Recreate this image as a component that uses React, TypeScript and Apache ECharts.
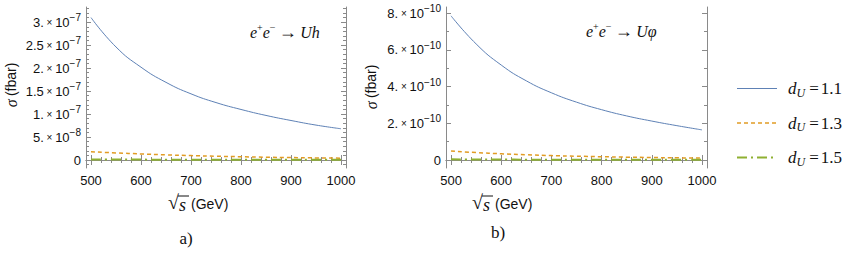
import React, { useEffect, useRef } from "react";
import * as echarts from "echarts";

// ---- data ----
const sqrtS = [500, 550, 600, 650, 700, 750, 800, 850, 900, 950, 1000];

// panel a) e+e- -> U h   (fbar)
const uhD11 = [3.1e-7, 2.46e-7, 2.02e-7, 1.69e-7, 1.44e-7, 1.25e-7, 1.1e-7, 9.7e-8, 8.6e-8, 7.6e-8, 6.8e-8];
const uhD13 = [1.8e-8, 1.55e-8, 1.32e-8, 1.12e-8, 9.6e-9, 8.3e-9, 7.1e-9, 6.1e-9, 5.3e-9, 4.6e-9, 4.0e-9];
const uhD15 = [1.2e-9, 1.0e-9, 8.5e-10, 7.3e-10, 6.3e-10, 5.5e-10, 4.8e-10, 4.2e-10, 3.7e-10, 3.3e-10, 3.0e-10];

// panel b) e+e- -> U phi   (fbar)
const uphiD11 = [7.85e-10, 6.32e-10, 5.17e-10, 4.31e-10, 3.66e-10, 3.15e-10, 2.74e-10, 2.4e-10, 2.12e-10, 1.87e-10, 1.64e-10];
const uphiD13 = [4.9e-11, 4.05e-11, 3.4e-11, 2.85e-11, 2.4e-11, 2.08e-11, 1.8e-11, 1.56e-11, 1.35e-11, 1.18e-11, 1.02e-11];
const uphiD15 = [3.5e-12, 2.9e-12, 2.4e-12, 2.0e-12, 1.7e-12, 1.45e-12, 1.25e-12, 1.1e-12, 0.95e-12, 0.85e-12, 0.75e-12];

// ticks
const xTicks = [500, 600, 700, 800, 900, 1000];
const xMinorTicks = [520, 540, 560, 580, 620, 640, 660, 680, 720, 740, 760, 780, 820, 840, 860, 880, 920, 940, 960, 980];

const uhYTicks = [0, 5e-8, 1e-7, 1.5e-7, 2e-7, 2.5e-7, 3e-7];
const uhYMantissa = ["0", "5.", "1.", "1.5", "2.", "2.5", "3."];
const uhYExponent = ["", "−8", "−7", "−7", "−7", "−7", "−7"];
const uhYMinor = [-1e-8, 1e-8, 2e-8, 3e-8, 4e-8, 6e-8, 7e-8, 8e-8, 9e-8, 1.1e-7, 1.2e-7, 1.3e-7, 1.4e-7, 1.6e-7, 1.7e-7, 1.8e-7, 1.9e-7, 2.1e-7, 2.2e-7, 2.3e-7, 2.4e-7, 2.6e-7, 2.7e-7, 2.8e-7, 2.9e-7, 3.1e-7, 3.2e-7, 3.3e-7];

const uphiYTicks = [0, 2e-10, 4e-10, 6e-10, 8e-10];
const uphiYMantissa = ["0", "2.", "4.", "6.", "8."];
const uphiYExponent = ["", "−10", "−10", "−10", "−10"];
const uphiYMinor = [1e-10, 3e-10, 5e-10, 7e-10];

const legendValues = ["1.1", "1.3", "1.5"];
const seriesNames = ["dU=1.1", "dU=1.3", "dU=1.5"];

const FRAME = "#8a8a8a";
const SANS = "Liberation Sans";
const SERIF = "Liberation Serif";
const BLUE = "#5e81b5";
const ORANGE = "#e19c24";
const GREEN = "#8fb032";
const WIDTHS = [1, 1.5, 2];

function labelFormatter(ticks: number[], mant: string[], exp: string[]) {
  return (v: number) => {
    let best = 0;
    let bd = Infinity;
    ticks.forEach((t, i) => {
      const d = Math.abs(t - v);
      if (d < bd) { bd = d; best = i; }
    });
    if (exp[best] === "") return `{m|${mant[best]}}`;
    return `{m|${mant[best]}}{x| × }{m|10}{e|${exp[best]}}`;
  };
}

const yRich = {
  m: { fontFamily: SANS, fontSize: 13, color: "#111" },
  x: { fontFamily: SANS, fontSize: 10, color: "#111" },
  e: { fontFamily: SANS, fontSize: 10, color: "#111", padding: [0, 0, 9, 0] },
};

function buildAxes(gi: number, yMin: number, yMax: number, yTicks: number[], yMinor: number[], fmt: (v: number) => string) {
  const base = { gridIndex: gi, type: "value", splitLine: { show: false } };
  const xBase = { ...base, min: 490, max: 1010 };
  const yBase = { ...base, min: yMin, max: yMax };
  const line = { show: true, lineStyle: { color: FRAME, width: 1 } };
  const noLine = { show: false };
  const tick = (vals: number[], len: number) => ({ show: true, inside: true, length: len, customValues: vals, lineStyle: { color: FRAME, width: 1 } });
  const xs = [
    { ...xBase, position: "bottom", axisLine: line, axisTick: tick(xTicks, 5),
      axisLabel: { show: true, customValues: xTicks, margin: 6, fontFamily: SANS, fontSize: 13, color: "#111", formatter: (v: number) => String(Math.round(v)) } },
    { ...xBase, position: "bottom", axisLine: noLine, axisTick: tick(xMinorTicks, 3), axisLabel: { show: false } },
    { ...xBase, position: "top", axisLine: line, axisTick: tick(xTicks, 5), axisLabel: { show: false } },
    { ...xBase, position: "top", axisLine: noLine, axisTick: tick(xMinorTicks, 3), axisLabel: { show: false } },
  ];
  const ys = [
    { ...yBase, position: "left", axisLine: line, axisTick: tick(yTicks, 5),
      axisLabel: { show: true, customValues: yTicks, margin: 5, formatter: fmt, rich: yRich } },
    { ...yBase, position: "left", axisLine: noLine, axisTick: tick(yMinor, 3), axisLabel: { show: false } },
    { ...yBase, position: "right", axisLine: line, axisTick: tick(yTicks, 5), axisLabel: { show: false } },
    { ...yBase, position: "right", axisLine: noLine, axisTick: tick(yMinor, 3), axisLabel: { show: false } },
  ];
  return { xs, ys };
}

function makeSeries(axisIndex: number, d11: number[], d13: number[], d15: number[]) {
  const common = { type: "line", showSymbol: false, symbol: "none", smooth: 0.5, xAxisIndex: axisIndex, yAxisIndex: axisIndex };
  const pts = (arr: number[]) => sqrtS.map((x, i) => [x, arr[i]]);
  return [
    { ...common, name: seriesNames[0], data: pts(d11), lineStyle: { color: BLUE, width: WIDTHS[0] }, itemStyle: { color: BLUE } },
    { ...common, name: seriesNames[1], data: pts(d13), lineStyle: { color: ORANGE, width: WIDTHS[1], type: [4, 3] }, itemStyle: { color: ORANGE } },
    { ...common, name: seriesNames[2], data: pts(d15), lineStyle: { color: GREEN, width: WIDTHS[2], type: [10, 4, 2, 4] }, itemStyle: { color: GREEN } },
  ];
}

function xTitle(left: number, cy: number) {
  return [
    { type: "text", left: left, top: cy - 13, style: { text: "√", font: `20px '${SERIF}'`, fill: "#111" } },
    { type: "text", left: left + 11, top: cy - 9, style: { text: "s", font: `italic 18px '${SERIF}'`, fill: "#111" } },
    { type: "line", shape: { x1: left + 10, y1: cy - 9, x2: left + 21, y2: cy - 9 }, style: { stroke: "#111", lineWidth: 1 } },
    { type: "text", left: left + 23, top: cy - 8, style: { text: "(GeV)", font: `14px '${SANS}'`, fill: "#111" } },
  ];
}

function yTitle(cx: number, cy: number) {
  return {
    type: "text", x: cx, y: cy, rotation: Math.PI / 2,
    style: {
      text: "{g|σ} {t|(fbar)}", align: "center", verticalAlign: "middle",
      rich: {
        g: { fontFamily: SERIF, fontStyle: "italic", fontSize: 16, fill: "#111" },
        t: { fontFamily: SANS, fontSize: 14, fill: "#111" },
      },
    },
  };
}

function process(x: number, y: number, final: string) {
  return {
    type: "text", x, y,
    style: {
      text: `{i|e}{p|+}{i|e}{p|−} {n|→} {i|U${final}}`, align: "left", verticalAlign: "middle",
      rich: {
        i: { fontFamily: SERIF, fontStyle: "italic", fontSize: 16, fill: "#111" },
        p: { fontFamily: SERIF, fontSize: 10, fill: "#111", padding: [0, 0, 9, 0] },
        n: { fontFamily: SERIF, fontSize: 18, fill: "#111" },
      },
    },
  };
}

export default function App() {
  const ref = useRef<HTMLDivElement>(null);
  useEffect(() => {
    if (!ref.current) return;
    const chart = echarts.init(ref.current, undefined, { renderer: "svg" });
    const a = buildAxes(0, -1.74e-8, 3.33e-7, uhYTicks, uhYMinor, labelFormatter(uhYTicks, uhYMantissa, uhYExponent));
    const b = buildAxes(1, -4.35e-11, 8.33e-10, uphiYTicks, uphiYMinor, labelFormatter(uphiYTicks, uphiYMantissa, uphiYExponent));
    chart.setOption({
      animation: false,
      backgroundColor: "#ffffff",
      grid: [
        { left: 86, top: 7, width: 260, height: 161 },
        { left: 446, top: 7, width: 261, height: 161 },
      ],
      xAxis: [...a.xs, ...b.xs],
      yAxis: [...a.ys, ...b.ys],
      legend: {
        orient: "vertical", left: 731, top: 75, itemWidth: 40, itemHeight: 14, itemGap: 16,
        data: seriesNames.map((n, i) => ({ name: n, lineStyle: { width: WIDTHS[i] } })),
        itemStyle: { opacity: 0, color: "transparent", borderWidth: 0 },
        formatter: (name: string) => {
          const i = seriesNames.indexOf(name);
          return `{d|d}{u|U}{q|=}{v|${legendValues[i]}}`;
        },
        textStyle: {
          rich: {
            d: { fontFamily: SERIF, fontStyle: "italic", fontSize: 17, color: "#111", padding: [0, 0, 0, 6] },
            u: { fontFamily: SERIF, fontStyle: "italic", fontSize: 12, color: "#111", padding: [8, 0, 0, 0] },
            q: { fontFamily: SERIF, fontSize: 17, color: "#111", padding: [0, 2, 0, 4] },
            v: { fontFamily: SERIF, fontSize: 17, color: "#111" },
          },
        },
      },
      series: [...makeSeries(0, uhD11, uhD13, uhD15), ...makeSeries(4, uphiD11, uphiD13, uphiD15)],
      graphic: [
        yTitle(11, 85),
        yTitle(371, 87),
        ...xTitle(168, 205),
        ...xTitle(472, 205),
        process(250, 32, "h"),
        process(586, 31, "φ"),
        { type: "text", x: 186, y: 238, style: { text: "a)", font: `17px '${SERIF}'`, fill: "#111", align: "center", verticalAlign: "middle" } },
        { type: "text", x: 498, y: 232, style: { text: "b)", font: `17px '${SERIF}'`, fill: "#111", align: "center", verticalAlign: "middle" } },
      ],
    });
    return () => chart.dispose();
  }, []);
  return <div ref={ref} style={{ width: 850, height: 256, position: "absolute", left: 0, top: 0 }} />;
}
